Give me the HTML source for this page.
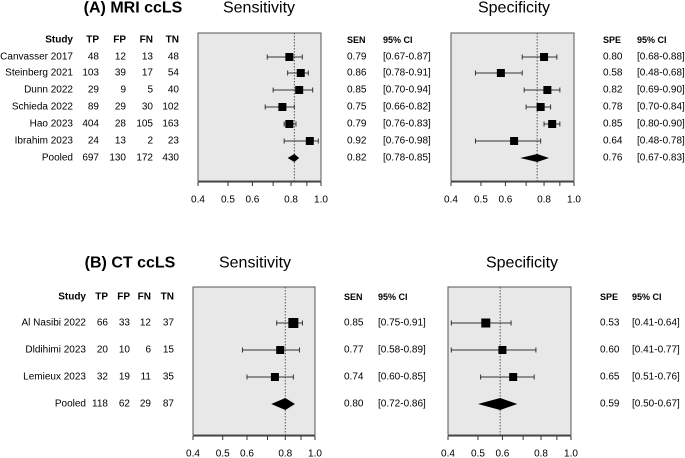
<!DOCTYPE html>
<html><head><meta charset="utf-8"><style>
body{margin:0;background:#fff}
svg{display:block;font-family:"Liberation Sans",Arial,sans-serif}
</style></head><body>
<svg id="c" width="685" height="458" viewBox="0 0 685 458"></svg>
<script>
const studiesA=["Canvasser 2017","Steinberg 2021","Dunn 2022","Schieda 2022","Hao 2023","Ibrahim 2023","Pooled"];
const tpA=[48,103,29,89,404,24,697];
const fpA=[12,39,9,29,28,13,130];
const fnA=[13,17,5,30,105,2,172];
const tnA=[48,54,40,102,163,23,430];
const senA=[0.79,0.86,0.85,0.75,0.79,0.92,0.82];
const senLoA=[0.67,0.78,0.70,0.66,0.76,0.76,0.78];
const senHiA=[0.87,0.91,0.94,0.82,0.83,0.98,0.85];
const speA=[0.80,0.58,0.82,0.78,0.85,0.64,0.76];
const speLoA=[0.68,0.48,0.69,0.70,0.80,0.48,0.67];
const speHiA=[0.88,0.68,0.90,0.84,0.90,0.78,0.83];
const studiesB=["Al Nasibi 2022","Dldihimi 2023","Lemieux 2023","Pooled"];
const tpB=[66,20,32,118];
const fpB=[33,10,19,62];
const fnB=[12,6,11,29];
const tnB=[37,15,35,87];
const senB=[0.85,0.77,0.74,0.80];
const senLoB=[0.75,0.58,0.60,0.72];
const senHiB=[0.91,0.89,0.85,0.86];
const speB=[0.53,0.60,0.65,0.59];
const speLoB=[0.41,0.41,0.51,0.50];
const speHiB=[0.64,0.77,0.76,0.67];
const tickVals=[0.4,0.5,0.6,0.7,0.8,0.9,1.0];
const tickLabels=["0.4","0.5","0.6","","0.8","","1.0"];

const svg=document.getElementById('c');
const NS="http://www.w3.org/2000/svg";
function mk(tag,attrs,parent){const e=document.createElementNS(NS,tag);for(const k in attrs)e.setAttribute(k,attrs[k]);(parent||svg).appendChild(e);return e;}
function txt(x,y,s,opt,name){const t=mk('text',{x:x,y:y,'font-size':opt.size||10,'text-anchor':opt.anchor||'start','font-weight':opt.bold?'bold':'normal',fill:'#000','dominant-baseline':'central'});t.textContent=s;


return t;}
function fmt(v){return v.toFixed(2);}

function forest(x0,x1,top,bot,rows,est,lo,hi,sqHalf,diamH,name){
  const sx=v=>x1+(x1-x0)/Math.log(2.5)*Math.log(v);
  const g=mk('g',{});
  
  
  const r=mk('rect',{x:x0,y:top,width:x1-x0,height:bot-top,fill:'#e8e8e8',stroke:'#555','stroke-width':1},g);
  
  
  const n=est.length;
  const pv=est[n-1];
  const ref=mk('line',{x1:sx(pv),x2:sx(pv),y1:top,y2:bot,stroke:'#555','stroke-dasharray':'1.5,1.5','stroke-width':1},g);
  
  
  for(let i=0;i<n;i++){
    const y=rows[i];
    if(i<n-1){
      const l=mk('line',{x1:sx(lo[i]),x2:sx(hi[i]),y1:y,y2:y,stroke:'#333','stroke-width':1},g);
      
      
      for(const v of [lo[i],hi[i]]){const c=mk('line',{x1:sx(v),x2:sx(v),y1:y-2.5,y2:y+2.5,stroke:'#333','stroke-width':1},g);
        
        }
      const h=sqHalf[i];
      const s=mk('rect',{x:sx(est[i])-h,y:y-h,width:2*h,height:2*h,fill:'#000'},g);
      
      
    }else{
      const d=mk('polygon',{points:`${sx(lo[i])},${y} ${sx(est[i])},${y-diamH} ${sx(hi[i])},${y} ${sx(est[i])},${y+diamH}`,fill:'#000'},g);
      
      
    }
  }
  const ax=mk('line',{x1:x0,x2:x1,y1:bot+1,y2:bot+1,stroke:'#333'},g);
  
  
  tickVals.forEach((v,i)=>{
    const tk=mk('line',{x1:sx(v),x2:sx(v),y1:bot+1,y2:bot+5,stroke:'#333'},g);
    
    
    if(tickLabels[i])txt(sx(v),bot+19,tickLabels[i],{anchor:'middle',size:10},'x-tick-label');
  });
}

function table(studies,tp,fp,fn,tn,rows,hdrY,cols){
  txt(cols[0],hdrY,"Study",{anchor:'end',bold:true},'study-header');
  ["TP","FP","FN","TN"].forEach((h,j)=>txt(cols[j+1],hdrY,h,{anchor:'end',bold:true},'column-header-'+h.toLowerCase()));
  studies.forEach((s,i)=>{
    txt(cols[0],rows[i],s,{anchor:'end'},'study-name');
    [tp,fp,fn,tn].forEach((a,j)=>txt(cols[j+1],rows[i],String(a[i]),{anchor:'end'},'count-cell'));
  });
}
function stats(label,est,lo,hi,rows,hdrY,xa,xb){
  txt(xa,hdrY,label,{bold:true,size:9},label.toLowerCase()+'-header');
  txt(xb,hdrY,"95% CI",{bold:true,size:9},'ci-header');
  est.forEach((v,i)=>{
    txt(xa,rows[i],fmt(v),{},label.toLowerCase()+'-value');
    txt(xb,rows[i],"["+fmt(lo[i])+"-"+fmt(hi[i])+"]",{},'ci-value');
  });
}

// Panel A
const rowsA=[57,73,90,107,124,141,158];
txt(133,8,"(A) MRI ccLS",{anchor:'middle',bold:true,size:16},'panel-a-title');
txt(259,8,"Sensitivity",{anchor:'middle',size:16},'panel-a-sensitivity-title');
txt(514,8,"Specificity",{anchor:'middle',size:16},'panel-a-specificity-title');
table(studiesA,tpA,fpA,fnA,tnA,rowsA,40,[73,99,126,153,179]);
forest(198,321,33,181,rowsA,senA,senLoA,senHiA,[4,4,4,4,4,4],4,'panel-a-sensitivity-plot');
stats("SEN",senA,senLoA,senHiA,rowsA,40,347,383);
forest(451,574,33,181,rowsA,speA,speLoA,speHiA,[4,4,4,4,4,4],4,'panel-a-specificity-plot');
stats("SPE",speA,speLoA,speHiA,rowsA,40,603,637);

// Panel B
const rowsB=[323,350,377,404];
txt(130,263,"(B) CT ccLS",{anchor:'middle',bold:true,size:16},'panel-b-title');
txt(255,263,"Sensitivity",{anchor:'middle',size:16},'panel-b-sensitivity-title');
txt(522,263,"Specificity",{anchor:'middle',size:16},'panel-b-specificity-title');
table(studiesB,tpB,fpB,fnB,tnB,rowsB,297,[86,108,130,151,174]);
forest(193,315,287,435,rowsB,senB,senLoB,senHiB,[5,4,4],6,'panel-b-sensitivity-plot');
stats("SEN",senB,senLoB,senHiB,rowsB,297,344,378);
forest(448,571,287,435,rowsB,speB,speLoB,speHiB,[4.5,4,4],6,'panel-b-specificity-plot');
stats("SPE",speB,speLoB,speHiB,rowsB,297,600,632);
</script>
</body></html>
